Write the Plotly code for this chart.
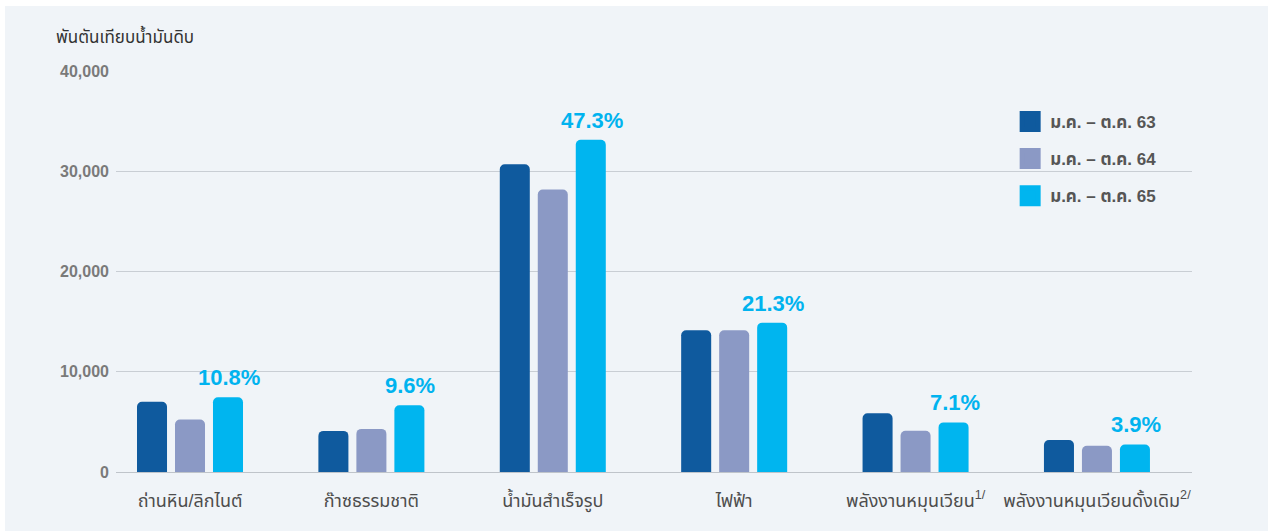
import plotly.graph_objects as go

# Data (thousand tonnes of crude oil equivalent)
categories = ["ถ่านหิน/ลิกไนต์", "ก๊าซธรรมชาติ", "น้ำมันสำเร็จรูป", "ไฟฟ้า",
              "พลังงานหมุนเวียน<sup>1/</sup>", "พลังงานหมุนเวียนดั้งเดิม<sup>2/</sup>"]
series_names = ["ม.ค. – ต.ค. 63", "ม.ค. – ต.ค. 64", "ม.ค. – ต.ค. 65"]
values_63 = [7000, 4100, 30700, 14130, 5850, 3190]
values_64 = [5230, 4300, 28170, 14130, 4120, 2620]
values_65 = [7460, 6660, 33130, 14900, 4950, 2750]
growth_labels = ["10.8%", "9.6%", "47.3%", "21.3%", "7.1%", "3.9%"]
y_ticks = [0, 10000, 20000, 30000, 40000]

colors = ["#0f5a9e", "#8b99c5", "#00b5ef"]
FONT = "Liberation Sans, Noto Sans Thai, Noto Sans, sans-serif"

fig = go.Figure()

for name, vals, col in zip(series_names, [values_63, values_64, values_65], colors):
    fig.add_trace(go.Bar(
        x=categories, y=vals, name=name,
        marker=dict(color=col, line=dict(width=0)),
        showlegend=False,
    ))

# legend-only helpers for bigger square swatches
for i, (name, col) in enumerate(zip(series_names, colors)):
    fig.add_trace(go.Scatter(
        x=[None], y=[None], mode="markers", name=name,
        legendgroup=f"g{i}",
        marker=dict(symbol="square", size=16, color=col,
                    line=dict(color=col, width=5)),
    ))

# growth labels above the 2565 bars
for cat, val, txt in zip(categories, values_65, growth_labels):
    fig.add_annotation(
        x=cat, y=val, text=f"<b>{txt}</b>", showarrow=False,
        xshift=39, yshift=5, yanchor="bottom",
        font=dict(family=FONT, size=22, color="#00b3ef"),
    )

fig.add_annotation(
    xref="paper", yref="paper", x=-0.058, y=1.056, xanchor="left", yanchor="bottom",
    text="พันตันเทียบน้ำมันดิบ", showarrow=False,
    font=dict(family=FONT, size=17, color="#333333"),
)

# figure sits 5px/6px in from the page corner (white strip top and left)
fig.update_layout(
    width=1263, height=525,
    margin=dict(l=111, r=76, t=65, b=59),
    paper_bgcolor="#f0f4f8", plot_bgcolor="#f0f4f8",
    barmode="group", bargap=0.3716, bargroupgap=0.21,
    barcornerradius=5,
    font=dict(family=FONT),
    xaxis=dict(
        type="category", range=[-0.408, 5.524],
        showgrid=False, showline=False, zeroline=False,
        tickfont=dict(family=FONT, size=18, color="#4d4d4d"),
        ticklabelstandoff=16,
    ),
    yaxis=dict(
        range=[0, 40000], tickvals=y_ticks, tickformat=",",
        showgrid=True, gridcolor="#c9ced4", gridwidth=1,
        zeroline=True, zerolinecolor="#bfc4ca", zerolinewidth=1,
        showline=False, ticklabelstandoff=6,
        tickfont=dict(family=FONT, size=16, color="#7a7a7a", weight="bold"),
    ),
    legend=dict(
        x=0.831, y=0.918, xanchor="left", yanchor="top",
        bgcolor="rgba(0,0,0,0)", tracegroupgap=12,
        font=dict(family=FONT, size=17, color="#555555", weight="bold"),
    ),
)

fig.write_html("out.html", post_script="document.body.style.margin='6px 0 0 5px';")
